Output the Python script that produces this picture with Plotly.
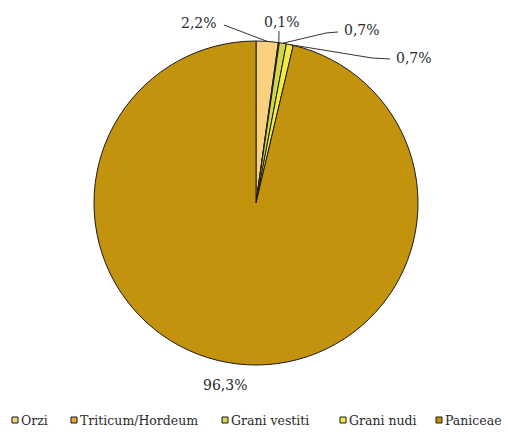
import math
import plotly.graph_objects as go

# Composition of the carpological assemblage (percent of remains)
categories = ["Orzi", "Triticum/Hordeum", "Grani vestiti", "Grani nudi", "Paniceae"]
values = [2.2, 0.1, 0.7, 0.7, 96.3]
colors = ["#F8D27F", "#E9A43A", "#D3D64C", "#F1EC3C", "#C4930E"]

W, H = 508, 435
CX, CY, R = 256, 203, 162          # pie centre and radius, px
FONT = "DejaVu Serif"


def px(x, y):
    """Pixel position -> paper coordinates."""
    return x / W, 1 - y / H


def fmt(v):
    return f"{v:.1f}".replace(".", ",") + "%"


fig = go.Figure(go.Pie(
    labels=categories,
    values=values,
    sort=False,
    direction="clockwise",
    rotation=0,
    textinfo="none",
    hoverinfo="label+percent",
    marker=dict(colors=colors, line=dict(color="#1a1a1a", width=1)),
    domain=dict(x=[(CX - R) / W, (CX + R) / W], y=[1 - (CY + R) / H, 1 - (CY - R) / H]),
    showlegend=False,
))

# label placement (px): anchor x, y, xanchor, optional elbow points of the leader line
label_pos = [
    (219, 23, "right", [(224, 25)]),
    (282, 22, "center", [(279, 31)]),
    (342, 30, "left", [(338, 32), (326, 33)]),
    (394, 58, "left", [(390, 59), (372, 58)]),
    (225, 385, "center", None),
]

total = sum(values)
cum = 0.0
shapes, annotations = [], []
for v, (lx, ly, anchor, elbow) in zip(values, label_pos):
    mid = (cum + v / 2) / total * 2 * math.pi   # clockwise from 12 o'clock
    cum += v
    ex, ey = CX + R * math.sin(mid), CY - R * math.cos(mid)
    ax, ay = px(lx, ly)
    annotations.append(dict(
        x=ax, y=ay, xref="paper", yref="paper", xanchor=anchor, yanchor="middle",
        text=fmt(v), showarrow=False, font=dict(family=FONT, size=14, color="#2a2a2a"),
    ))
    if elbow:
        pts = elbow + [(ex, ey)]
        path = "M " + " L ".join(
            f"{px(x, y)[0]:.5f},{px(x, y)[1]:.5f}" for x, y in pts
        )
        shapes.append(dict(type="path", path=path, xref="paper", yref="paper",
                           line=dict(color="#333333", width=1)))

# legend row: square swatch followed by its label
legend_x = [12, 71, 222, 340, 436]
LEG_Y, SW = 420, 6
for name, col, x0 in zip(categories, colors, legend_x):
    x1, y1 = px(x0, LEG_Y - SW / 2)
    x2, y2 = px(x0 + SW, LEG_Y + SW / 2)
    shapes.append(dict(type="rect", xref="paper", yref="paper",
                       x0=x1, x1=x2, y0=y2, y1=y1,
                       fillcolor=col, line=dict(color="#1a1a1a", width=1)))
    tx, ty = px(x0 + SW + 1, LEG_Y)
    annotations.append(dict(
        x=tx, y=ty, xref="paper", yref="paper", xanchor="left", yanchor="middle",
        text=name, showarrow=False, font=dict(family=FONT, size=12.5, color="#2a2a2a"),
    ))

fig.update_layout(
    width=W, height=H,
    margin=dict(l=0, r=0, t=0, b=0),
    paper_bgcolor="white", plot_bgcolor="white",
    shapes=shapes, annotations=annotations,
)

fig.write_html("out.html")
